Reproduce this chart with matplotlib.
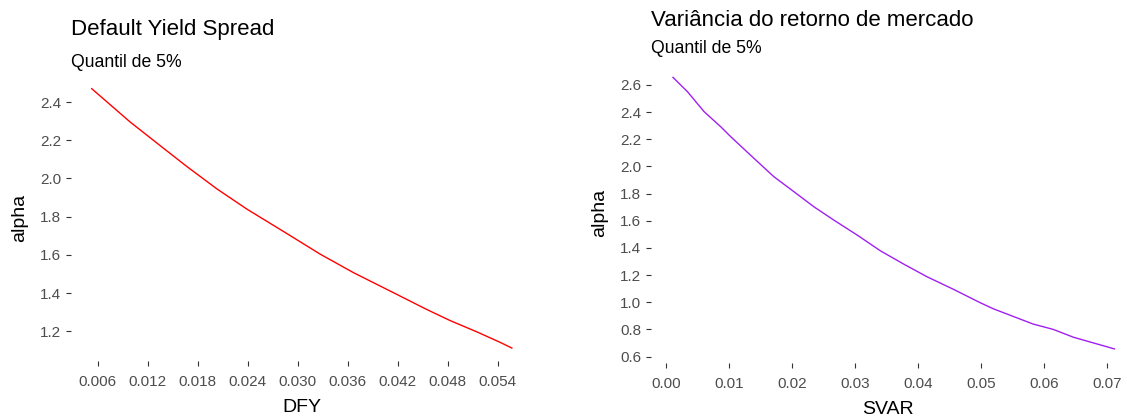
import matplotlib
matplotlib.use("Agg")
import matplotlib.pyplot as plt

plt.rcParams['font.family'] = ['Liberation Sans', 'DejaVu Sans']

# Left panel data
dfy = [0.00528, 0.00988, 0.01308, 0.01668, 0.02028, 0.02388, 0.02868, 0.03268,
       0.03668, 0.04148, 0.04548, 0.04828, 0.05148, 0.05428, 0.0557]
alpha_dfy = [2.470, 2.296, 2.186, 2.063, 1.946, 1.840, 1.712, 1.604,
             1.507, 1.402, 1.314, 1.256, 1.197, 1.142, 1.112]

# Right panel data
svar = [0.00103, 0.00332, 0.00596, 0.0086, 0.01018, 0.01388, 0.01704, 0.02021,
        0.02338, 0.02654, 0.03024, 0.03393, 0.03763, 0.04132, 0.04554, 0.04976,
        0.0519, 0.05821, 0.06137, 0.0646, 0.0711]
alpha_svar = [2.656, 2.551, 2.404, 2.293, 2.220, 2.060, 1.925, 1.815,
              1.704, 1.606, 1.496, 1.380, 1.282, 1.189, 1.096, 0.998,
              0.952, 0.840, 0.801, 0.743, 0.657]

left_xticks = [0.006, 0.012, 0.018, 0.024, 0.030, 0.036, 0.042, 0.048, 0.054]
left_yticks = [1.2, 1.4, 1.6, 1.8, 2.0, 2.2, 2.4]
right_xticks = [0.00, 0.01, 0.02, 0.03, 0.04, 0.05, 0.06, 0.07]
right_yticks = [0.6, 0.8, 1.0, 1.2, 1.4, 1.6, 1.8, 2.0, 2.2, 2.4, 2.6]

W, H = 1127, 419
fig = plt.figure(figsize=(W / 100, H / 100), dpi=100)

def px_axes(l, t, r, b):
    return fig.add_axes([l / W, 1 - b / H, (r - l) / W, (b - t) / H])

ax1 = px_axes(70.7, 75.7, 532.7, 361)
ax2 = px_axes(651, 63.8, 1125, 362.5)

ax1.plot(dfy, alpha_dfy, color='#FF0000', lw=1.0)
ax2.plot(svar, alpha_svar, color='#A020F0', lw=1.0)

ax1.set_xlim(0.00276, 0.0582)
ax2.set_xlim(-0.00246, 0.07278)

for ax, xt, yt, xfmt, xl in [(ax1, left_xticks, left_yticks, '{:.3f}', 'DFY'),
                             (ax2, right_xticks, right_yticks, '{:.2f}', 'SVAR')]:
    ax.margins(y=0.05)
    ax.set_xticks(xt)
    ax.set_xticklabels([xfmt.format(v) for v in xt])
    ax.set_yticks(yt)
    ax.set_yticklabels(['{:.1f}'.format(v) for v in yt])
    for s in ax.spines.values():
        s.set_visible(False)
    ax.tick_params(axis='both', length=3.5, width=0.8, color='#333333',
                   labelcolor='#4D4D4D', labelsize=11)
    ax.tick_params(axis='x', pad=6.8)
    ax.tick_params(axis='y', pad=3.4)
    ax.set_xlabel(xl, fontsize=14, color='black', labelpad=7)
    ax.set_ylabel('alpha', fontsize=14, color='black', labelpad=8.5)

fig.text(71 / W, 1 - 35 / H, 'Default Yield Spread', fontsize=16, va='baseline', ha='left')
fig.text(71 / W, 1 - 66.7 / H, 'Quantil de 5%', fontsize=12.7, va='baseline', ha='left')
fig.text(651 / W, 1 - 26 / H, 'Variância do retorno de mercado', fontsize=16, va='baseline', ha='left')
fig.text(651 / W, 1 - 53.3 / H, 'Quantil de 5%', fontsize=12.7, va='baseline', ha='left')

fig.savefig('out.png', dpi=100)
